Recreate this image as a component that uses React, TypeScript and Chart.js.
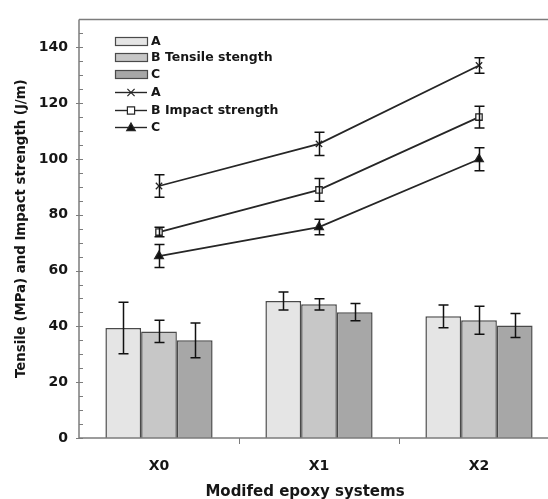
import React, { useEffect, useRef } from 'react';
import { Chart, registerables } from 'chart.js';
Chart.register(...registerables);

const categories = ['X0', 'X1', 'X2'];
const tensileA = [39.4, 49.1, 43.6];
const tensileB = [38.2, 47.9, 42.2];
const tensileC = [35.0, 45.1, 40.3];
const tensileAErr = [9.2, 3.2, 4.1];
const tensileBErr = [4.0, 2.0, 5.0];
const tensileCErr = [6.2, 3.1, 4.3];
const impactA = [90.3, 105.4, 133.5];
const impactB = [73.8, 88.9, 115.0];
const impactC = [65.2, 75.6, 99.9];
const impactAErr = [4.0, 4.2, 2.8];
const impactBErr = [1.7, 4.1, 3.9];
const impactCErr = [4.1, 2.8, 4.1];
const yTicks = [0, 20, 40, 60, 80, 100, 120, 140];
const legendLabels = ['A', 'B Tensile stength', 'C', 'A', 'B Impact strength', 'C'];
const yTitle = 'Tensile (MPa) and Impact strength (J/m)';
const xTitle = 'Modifed epoxy systems';

const FONT = '"DejaVu Sans", "Liberation Sans", sans-serif';
const TEXT = '#161616';
const AXIS = '#7c7c7c';
const BAR_BORDER = '#4a4a4a';
const LINE = '#262626';

function drawMarker(ctx: CanvasRenderingContext2D, style: string, fill: string, cx: number, cy: number, r: number) {
  ctx.save();
  ctx.strokeStyle = LINE;
  ctx.fillStyle = fill;
  ctx.lineWidth = 1.2;
  ctx.beginPath();
  if (style === 'crossRot') {
    ctx.moveTo(cx - r * 0.8, cy - r * 0.8);
    ctx.lineTo(cx + r * 0.8, cy + r * 0.8);
    ctx.moveTo(cx + r * 0.8, cy - r * 0.8);
    ctx.lineTo(cx - r * 0.8, cy + r * 0.8);
    ctx.stroke();
  } else if (style === 'rect') {
    ctx.rect(cx - r * 0.8, cy - r * 0.8, r * 1.6, r * 1.6);
    ctx.fill();
    ctx.stroke();
  } else {
    ctx.moveTo(cx, cy - r);
    ctx.lineTo(cx + r * 0.95, cy + r * 0.7);
    ctx.lineTo(cx - r * 0.95, cy + r * 0.7);
    ctx.closePath();
    ctx.fill();
    ctx.stroke();
  }
  ctx.restore();
}

const decor = {
  id: 'decor',
  afterDatasetsDraw(chart: any) {
    const ctx = chart.ctx;
    const y = chart.scales.y;
    ctx.save();
    ctx.strokeStyle = '#111';
    ctx.lineWidth = 1.5;
    chart.data.datasets.forEach((ds: any, i: number) => {
      const meta = chart.getDatasetMeta(i);
      meta.data.forEach((el: any, j: number) => {
        const v = ds.data[j];
        const e = ds.errors[j];
        const px = Math.round(el.x) + 0.5;
        const y1 = y.getPixelForValue(v + e);
        const y2 = y.getPixelForValue(v - e);
        ctx.beginPath();
        ctx.moveTo(px, y1);
        ctx.lineTo(px, y2);
        ctx.moveTo(px - 5, y1);
        ctx.lineTo(px + 5, y1);
        ctx.moveTo(px - 5, y2);
        ctx.lineTo(px + 5, y2);
        ctx.stroke();
      });
    });
    ctx.restore();
  },
  afterDraw(chart: any) {
    const ctx = chart.ctx;
    const { left, top, bottom } = chart.chartArea;
    const y = chart.scales.y;
    const x = chart.scales.x;
    ctx.save();
    ctx.strokeStyle = AXIS;
    ctx.lineWidth = 1.5;
    ctx.beginPath();
    ctx.moveTo(left, top);
    ctx.lineTo(chart.width, top);
    ctx.moveTo(left, top);
    ctx.lineTo(left, bottom);
    ctx.lineTo(chart.width, bottom);
    ctx.stroke();
    ctx.lineWidth = 1;
    ctx.beginPath();
    for (let v = 0; v <= 150; v += 5) {
      const py = Math.round(y.getPixelForValue(v)) + 0.5;
      if (v % 20 === 0) {
        ctx.moveTo(left - 3, py);
        ctx.lineTo(left + 4, py);
      } else {
        ctx.moveTo(left, py);
        ctx.lineTo(left + 4, py);
      }
    }
    for (let i = 1; i < categories.length; i++) {
      const px = Math.round((x.getPixelForValue(i - 1) + x.getPixelForValue(i)) / 2) + 0.5;
      ctx.moveTo(px, bottom);
      ctx.lineTo(px, bottom + 6);
    }
    ctx.stroke();

    ctx.fillStyle = TEXT;
    ctx.font = `bold 15px ${FONT}`;
    ctx.textAlign = 'center';
    ctx.textBaseline = 'middle';
    ctx.fillText(xTitle, 305, 492);

    const lx = 115;
    const rows = [41, 57, 74, 92, 110, 127];
    chart.data.datasets.forEach((ds: any, i: number) => {
      const cy = rows[i];
      if (ds.type === 'bar') {
        ctx.fillStyle = ds.backgroundColor;
        ctx.fillRect(lx, cy - 4, 32, 8);
        ctx.strokeStyle = BAR_BORDER;
        ctx.lineWidth = 1.2;
        ctx.strokeRect(lx + 0.5, cy - 3.5, 32, 8);
      } else {
        ctx.strokeStyle = LINE;
        ctx.lineWidth = 1.4;
        ctx.beginPath();
        ctx.moveTo(lx, cy + 0.5);
        ctx.lineTo(lx + 32, cy + 0.5);
        ctx.stroke();
        drawMarker(ctx, ds.pointStyle, ds.pointBackgroundColor, lx + 16, cy + 0.5, 4.5);
      }
      ctx.fillStyle = TEXT;
      ctx.font = `bold 12.5px ${FONT}`;
      ctx.textAlign = 'left';
      ctx.textBaseline = 'middle';
      ctx.fillText(legendLabels[i], lx + 36, cy + 0.5);
    });
    ctx.restore();
  },
};

export default function App() {
  const ref = useRef<HTMLCanvasElement | null>(null);
  useEffect(() => {
    if (!ref.current) return;
    const barBase = {
      type: 'bar' as const,
      borderColor: BAR_BORDER,
      borderWidth: 1.5,
      categoryPercentage: 0.67,
      barPercentage: 1,
    };
    const lineBase = {
      type: 'line' as const,
      borderColor: LINE,
      borderWidth: 1.8,
      fill: false,
      tension: 0,
      pointRadius: 4.5,
      pointBorderColor: LINE,
      pointBorderWidth: 1.3,
    };
    const chart = new Chart(ref.current, {
      type: 'bar',
      data: {
        labels: categories,
        datasets: [
          { ...barBase, label: legendLabels[0], data: tensileA, errors: tensileAErr, backgroundColor: '#e5e5e5' },
          { ...barBase, label: legendLabels[1], data: tensileB, errors: tensileBErr, backgroundColor: '#c7c7c7' },
          { ...barBase, label: legendLabels[2], data: tensileC, errors: tensileCErr, backgroundColor: '#a7a7a7' },
          { ...lineBase, label: legendLabels[3], data: impactA, errors: impactAErr, pointStyle: 'crossRot', pointBackgroundColor: LINE },
          { ...lineBase, label: legendLabels[4], data: impactB, errors: impactBErr, pointStyle: 'rect', pointRadius: 4.5, pointBackgroundColor: '#ffffff' },
          { ...lineBase, label: legendLabels[5], data: impactC, errors: impactCErr, pointStyle: 'triangle', pointRadius: 5, pointBackgroundColor: '#111111' },
        ] as any,
      },
      options: {
        animation: false,
        responsive: false,
        maintainAspectRatio: false,
        layout: { padding: { left: 0, top: 13, right: 11, bottom: 0 } },
        plugins: { legend: { display: false }, tooltip: { enabled: false } },
        scales: {
          x: {
            type: 'category',
            offset: true,
            grid: { display: false, drawTicks: false },
            border: { display: false },
            ticks: { font: { family: FONT, size: 14, weight: 'bold' }, color: TEXT, padding: 20 },
            afterFit(s: any) { s.height = 61; },
          },
          y: {
            min: 0,
            max: 150,
            grid: { display: false, drawTicks: false },
            border: { display: false },
            ticks: { font: { family: FONT, size: 14, weight: 'bold' }, color: TEXT, padding: 11 },
            afterBuildTicks(s: any) { s.ticks = yTicks.map((v) => ({ value: v })); },
            afterFit(s: any) { s.width = 79; },
            title: {
              display: true,
              text: yTitle,
              font: { family: FONT, size: 13.3, weight: 'bold' },
              color: TEXT,
              padding: { top: 14, bottom: 0 },
            },
          },
        },
      } as any,
      plugins: [decor],
    });
    return () => chart.destroy();
  }, []);
  return (
    <div style={{ position: 'fixed', left: 0, top: 0, width: 548, height: 499, overflow: 'hidden', background: '#fff' }}>
      <canvas ref={ref} width={570} height={499} style={{ display: 'block' }} />
    </div>
  );
}
